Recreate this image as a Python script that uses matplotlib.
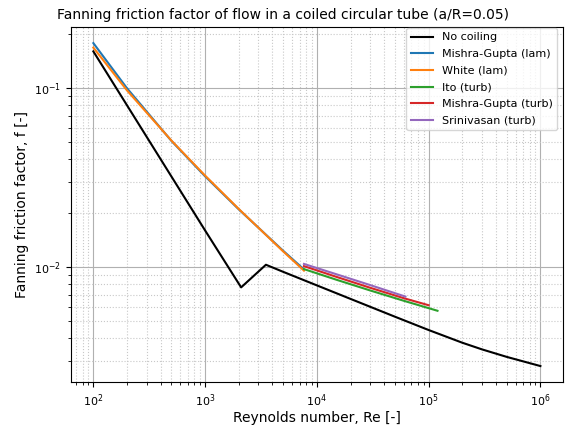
import numpy as np
import matplotlib.pyplot as plt

# straight tube (laminar, transition, turbulent)
re_straight = [100, 200, 500, 1000, 2100, 3500, 5000, 10000, 20000, 50000,
               100000, 200000, 300000, 500000, 1000000]
f_straight = [0.16, 0.08, 0.032, 0.016, 0.0077, 0.0103, 0.0094, 0.0079, 0.00664, 0.00528,
              0.00445, 0.00378, 0.00347, 0.00315, 0.0028]

# coiled tube, laminar
re_lam = [100, 200, 500, 1000, 2000, 5000, 7665]
f_mishra_lam = [0.178, 0.0996, 0.0506, 0.0321, 0.0210, 0.01232, 0.00970]
f_white_lam = [0.168, 0.0969, 0.0508, 0.0324, 0.0211, 0.01222, 0.00955]

# coiled tube, turbulent
re_ito = [7665, 15000, 30000, 60000, 120000]
f_ito = [0.00974, 0.00849, 0.00740, 0.00648, 0.00570]
re_mg = [7665, 15000, 30000, 60000, 100000]
f_mg = [0.01012, 0.00881, 0.00766, 0.00670, 0.00612]
re_sri = [7665, 15000, 30000, 62000]
f_sri = [0.01041, 0.00911, 0.00793, 0.00684]

fig = plt.figure(figsize=(5.84, 4.28), dpi=100)
ax = fig.add_axes([0.1216, 0.107, 0.842, 0.83])

ax.loglog(re_straight, f_straight, color='black', label='No coiling')
ax.loglog(re_lam, f_mishra_lam, color='tab:blue', label='Mishra-Gupta (lam)')
ax.loglog(re_lam, f_white_lam, color='tab:orange', label='White (lam)')
ax.loglog(re_ito, f_ito, color='tab:green', label='Ito (turb)')
ax.loglog(re_mg, f_mg, color='tab:red', label='Mishra-Gupta (turb)')
ax.loglog(re_sri, f_sri, color='tab:purple', label='Srinivasan (turb)')

ax.grid(True, which='major', color='#b0b0b0', linewidth=0.8)
ax.grid(True, which='minor', color='#c8c8c8', linestyle=':', linewidth=0.8)
ax.tick_params(labelsize=8)

ax.set_xlabel('Reynolds number, Re [-]', fontsize=10, labelpad=2)
ax.set_ylabel('Fanning friction factor, f [-]', fontsize=10)
ax.set_title('Fanning friction factor of flow in a coiled circular tube (a/R=0.05)',
             fontsize=10, x=0.431)
ax.legend(loc='upper right', fontsize=8, labelspacing=0.6,
          bbox_to_anchor=(1.0, 1.0127))

fig.savefig('out.png', dpi=100)
